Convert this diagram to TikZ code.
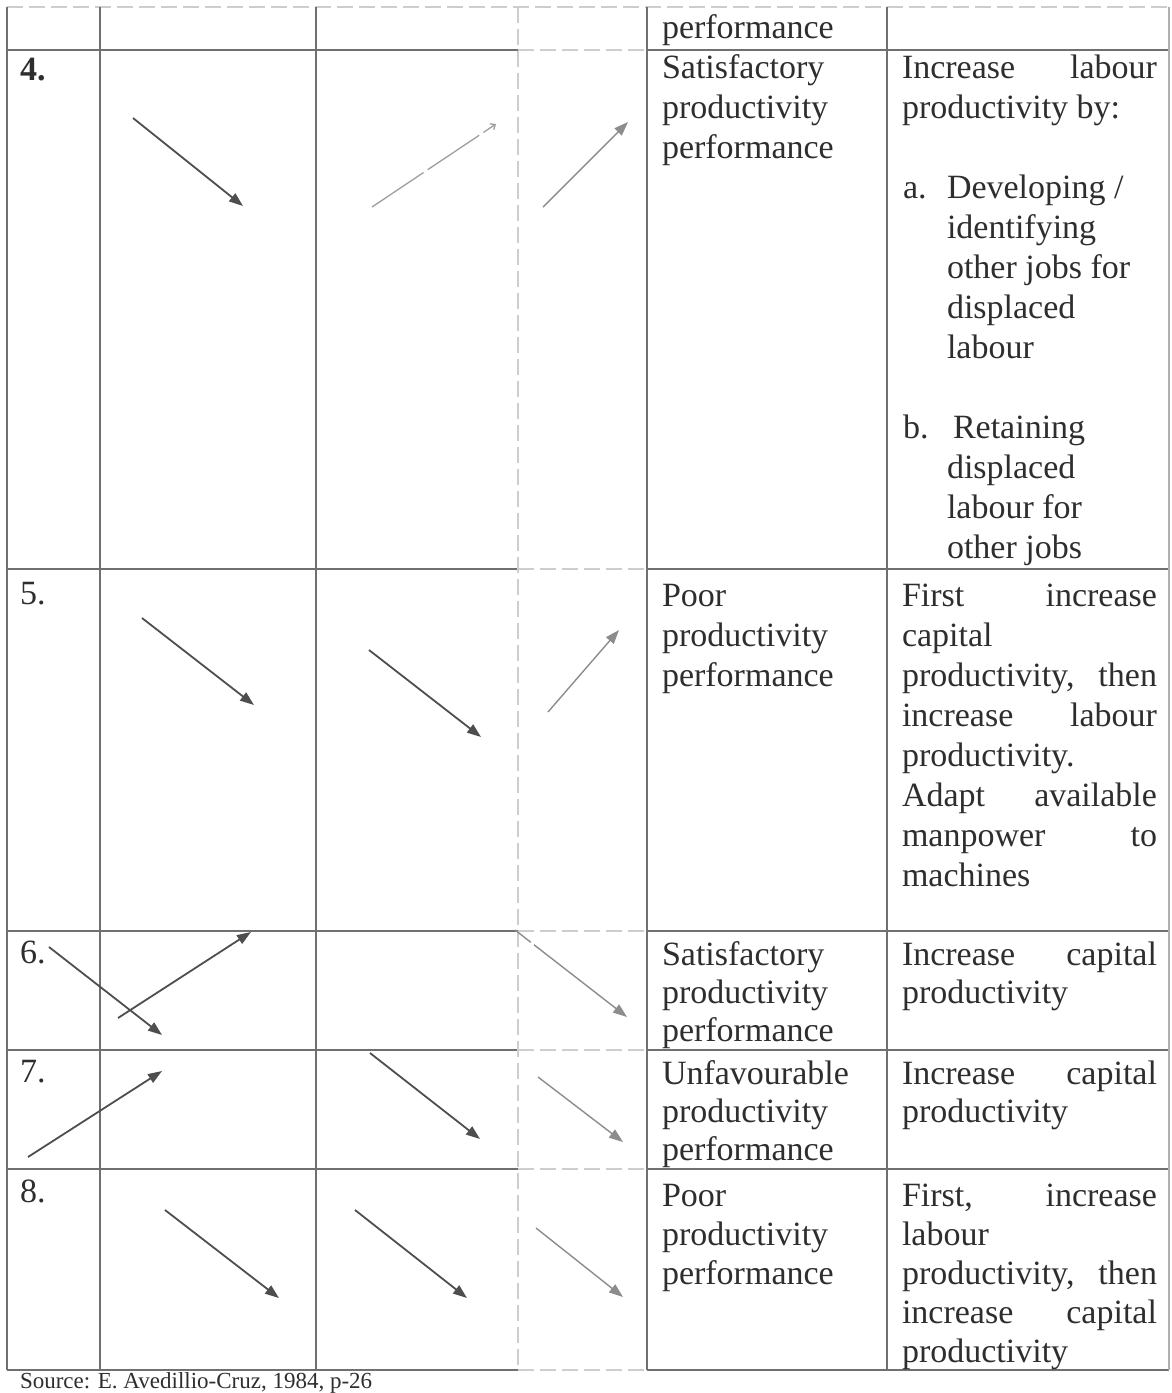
\documentclass[tikz,border=0pt]{standalone}
\usepackage{fontspec}
\setmainfont{Liberation Serif}
\usetikzlibrary{arrows.meta}

\definecolor{ink}{HTML}{2E2E2E}
\definecolor{rulegray}{HTML}{707070}
\definecolor{arrowgray}{HTML}{4E4E4E}

% one line of cell text, placed by its baseline
\newcommand\putline[4]{\node[txt] (#1) at (#2,#3) {#4};}
% a justified line of the right-hand column
\newcommand\spreadline[2]{\hbox to 255pt{#1\hfil#2}}

\begin{document}
\begin{tikzpicture}[x=1pt,y=-1pt,
  txt/.style={anchor=base west, inner sep=0pt, outer sep=0pt, text=ink,
    font=\fontsize{34}{40}\selectfont},
  srctxt/.style={txt, font=\fontsize{23}{28}\selectfont},
  rule/.style={draw=rulegray, line width=1.3pt},
  faintrule/.style={draw=rulegray!35, line width=1.1pt, dash pattern=on 16pt off 6pt},
  arr/.style={draw=arrowgray, line width=1.8pt, -{Triangle[length=14pt,width=10pt]}},
  lightarr/.style={arr, draw=arrowgray!65, line width=1.4pt},
  brokenarr/.style={draw=arrowgray!55, line width=1.3pt, dash pattern=on 62pt off 5pt,
    -{Straight Barb[length=4pt,width=7pt]}}]

\useasboundingbox (0,0) rectangle (1172,1393);

% ---- table rules ----
\draw[faintrule] (7,7) -- (1169,7);
\foreach \y in {50,569,931,1050,1169,1370}{
  \draw[rule] (7,\y) -- (518,\y);
  \draw[faintrule] (518,\y) -- (647,\y);
  \draw[rule] (647,\y) -- (1169,\y);
}
\foreach \x in {7,100,316,647,887}{
  \draw[rule] (\x,7) -- (\x,1370);
}
\draw[faintrule] (518,7) -- (518,1370);
\draw[draw=rulegray!55, line width=1.1pt] (1169,7) -- (1169,1370);

% ---- carried-over row ----
\putline{p0}{662}{38}{performance}

% ---- row 4 ----
\putline{n4}{20}{80}{\bfseries 4.}
\putline{r4a}{662}{78}{Satisfactory}
\putline{r4b}{662}{118}{productivity}
\putline{r4c}{662}{158}{performance}
\putline{s4a}{902}{78}{\spreadline{Increase}{labour}}
\putline{s4b}{902}{118}{productivity by:}
\putline{s4c}{903}{198}{a.}
\putline{s4d}{947}{198}{Developing /}
\putline{s4e}{947}{238}{identifying}
\putline{s4f}{947}{278}{other jobs for}
\putline{s4g}{947}{318}{displaced}
\putline{s4h}{947}{358}{labour}
\putline{s4i}{903}{438}{b.}
\putline{s4j}{953}{438}{Retaining}
\putline{s4k}{947}{478}{displaced}
\putline{s4l}{947}{518}{labour for}
\putline{s4m}{947}{558}{other jobs}

% ---- row 5 ----
\putline{n5}{20}{604}{5.}
\putline{r5a}{662}{606}{Poor}
\putline{r5b}{662}{646}{productivity}
\putline{r5c}{662}{686}{performance}
\putline{s5a}{902}{606}{\spreadline{First}{increase}}
\putline{s5b}{902}{646}{capital}
\putline{s5c}{902}{686}{\spreadline{productivity,}{then}}
\putline{s5d}{902}{726}{\spreadline{increase}{labour}}
\putline{s5e}{902}{766}{productivity.}
\putline{s5f}{902}{806}{\spreadline{Adapt}{available}}
\putline{s5g}{902}{846}{\spreadline{manpower}{to}}
\putline{s5h}{902}{886}{machines}

% ---- row 6 ----
\putline{n6}{20}{963}{6.}
\putline{r6a}{662}{965}{Satisfactory}
\putline{r6b}{662}{1003}{productivity}
\putline{r6c}{662}{1041}{performance}
\putline{s6a}{902}{965}{\spreadline{Increase}{capital}}
\putline{s6b}{902}{1003}{productivity}

% ---- row 7 ----
\putline{n7}{20}{1082}{7.}
\putline{r7a}{662}{1084}{Unfavourable}
\putline{r7b}{662}{1122}{productivity}
\putline{r7c}{662}{1160}{performance}
\putline{s7a}{902}{1084}{\spreadline{Increase}{capital}}
\putline{s7b}{902}{1122}{productivity}

% ---- row 8 ----
\putline{n8}{20}{1202}{8.}
\putline{r8a}{662}{1206}{Poor}
\putline{r8b}{662}{1245}{productivity}
\putline{r8c}{662}{1284}{performance}
\putline{s8a}{902}{1206}{\spreadline{First,}{increase}}
\putline{s8b}{902}{1245}{labour}
\putline{s8c}{902}{1284}{\spreadline{productivity,}{then}}
\putline{s8d}{902}{1323}{\spreadline{increase}{capital}}
\putline{s8e}{902}{1362}{productivity}

% ---- source line ----
\node[srctxt] (src) at (20,1388) {Source: E. Avedillio-Cruz, 1984, p-26};

% ---- trend arrows: end points ----
\coordinate (a4s) at (133,118);  \coordinate (a4e) at (243,206);
\coordinate (b4s) at (372,207);  \coordinate (b4e) at (496,124);
\coordinate (c4s) at (543,207);  \coordinate (c4e) at (628,122);
\coordinate (a5s) at (142,618);  \coordinate (a5e) at (254,705);
\coordinate (b5s) at (369,650);  \coordinate (b5e) at (481,737);
\coordinate (c5s) at (548,712);  \coordinate (c5e) at (619,630);
\coordinate (a6s) at (49,947);   \coordinate (a6e) at (162,1035);
\coordinate (d6s) at (118,1018); \coordinate (d6e) at (251,932);
\coordinate (c6s) at (515,930);  \coordinate (c6e) at (627,1017);
\coordinate (a7s) at (28,1157);  \coordinate (a7e) at (162,1071);
\coordinate (b7s) at (370,1053); \coordinate (b7e) at (480,1139);
\coordinate (c7s) at (538,1077); \coordinate (c7e) at (623,1142);
\coordinate (a8s) at (165,1210); \coordinate (a8e) at (279,1298);
\coordinate (b8s) at (355,1210); \coordinate (b8e) at (467,1298);
\coordinate (c8s) at (536,1228); \coordinate (c8e) at (623,1297);

% ---- trend arrows ----
\draw[arr]       (a4s) -- (a4e);
\draw[brokenarr] (b4s) -- (b4e);
\draw[lightarr]  (c4s) -- (c4e);
\draw[arr]       (a5s) -- (a5e);
\draw[arr]       (b5s) -- (b5e);
\draw[lightarr]  (c5s) -- (c5e);
\draw[arr]       (a6s) -- (a6e);
\draw[arr]       (d6s) -- (d6e);
\draw[lightarr, dash pattern=on 20pt off 4pt on 100pt off 0pt] (c6s) -- (c6e);
\draw[arr]       (a7s) -- (a7e);
\draw[arr]       (b7s) -- (b7e);
\draw[lightarr]  (c7s) -- (c7e);
\draw[arr]       (a8s) -- (a8e);
\draw[arr]       (b8s) -- (b8e);
\draw[lightarr]  (c8s) -- (c8e);
\end{tikzpicture}
\end{document}
